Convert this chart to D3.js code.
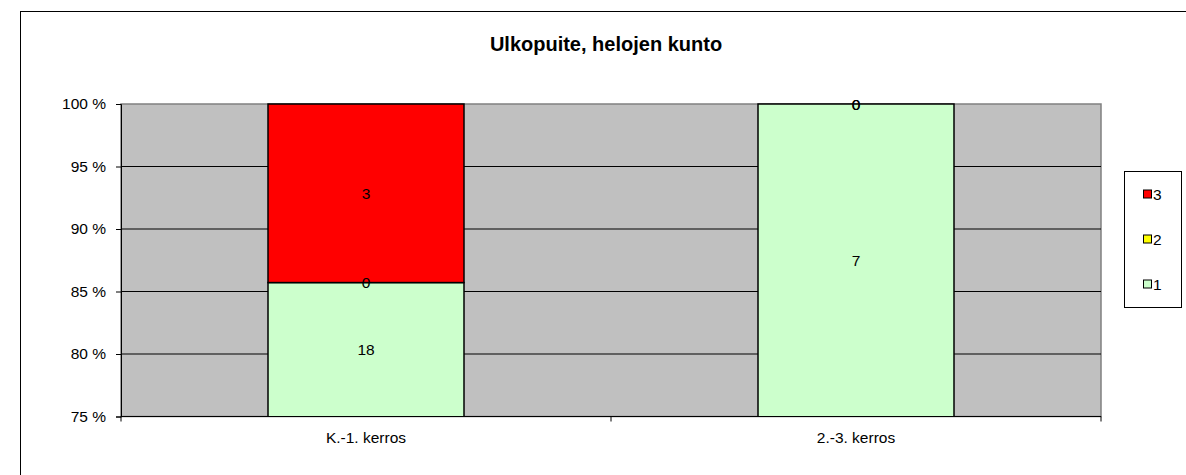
<!DOCTYPE html>
<html><head><meta charset="utf-8">
<script src="https://cdn.jsdelivr.net/npm/d3@7"></script>
<style>body{margin:0;background:#fff}svg{display:block;font-family:"Liberation Sans",Arial,sans-serif}</style>
</head><body>
<svg id="c" width="1186" height="475"></svg>
<script>
const categories = ["K.-1. kerros", "2.-3. kerros"];
const seriesNames = ["1", "2", "3"];
const seriesColors = ["#ccffcc", "#ffff00", "#ff0000"];
const values1 = [18, 7];
const values2 = [0, 0];
const values3 = [3, 0];
const yTicks = [0.75, 0.80, 0.85, 0.90, 0.95, 1.00];
const title = "Ulkopuite, helojen kunto";

const svg = d3.select("#c");
const L = 121, R = 1101, T = 104, B = 416.5;
const yMin = 0.75, yMax = 1.0;
const FS = 15.5;

svg.append("rect").attr("x",20.5).attr("y",11.5).attr("width",1300).attr("height",600)
  .attr("fill","#fff").attr("stroke","#000").attr("stroke-width",1);

svg.append("text").attr("x",606).attr("y",51).attr("text-anchor","middle")
  .attr("font-weight","bold").attr("font-size",20).text(title);

const x = d3.scaleBand().domain(categories).range([L,R]).paddingInner(0.6).paddingOuter(0.3);
const xOuter = d3.scaleBand().domain(categories).range([L,R]);
const y = d3.scaleLinear().domain([yMin,yMax]).range([B,T]);

svg.append("rect").attr("x",L).attr("y",T).attr("width",R-L).attr("height",B-T)
  .attr("fill","#c0c0c0").attr("stroke","#808080").attr("stroke-width",1.5);

// gridlines
svg.append("g").selectAll("line").data(yTicks.slice(1,-1)).join("line")
  .attr("x1",L).attr("x2",R).attr("y1",d=>y(d)).attr("y2",d=>y(d))
  .attr("stroke","#000").attr("stroke-width",1);

const series = [values1, values2, values3];
const stackData = categories.map((c,i)=>{
  const tot = series.reduce((s,v)=>s+v[i],0);
  let acc = 0;
  return series.map((v,k)=>{
    const y0 = acc/tot; acc += v[i]; const y1 = acc/tot;
    return {cat:c, k, v:v[i], y0, y1};
  });
});

svg.append("clipPath").attr("id","clip").append("rect")
  .attr("x",L).attr("y",T-2).attr("width",R-L).attr("height",B-T+2);

const gBars = svg.append("g").attr("clip-path","url(#clip)");
stackData.forEach(segs=>{
  segs.forEach(s=>{
    if (s.v === 0) return;
    const top = y(s.y1), bot = y(Math.max(s.y0,yMin - 0.01));
    gBars.append("rect").attr("x",x(s.cat)).attr("width",x.bandwidth())
      .attr("y",top).attr("height",bot-top)
      .attr("fill",seriesColors[s.k]).attr("stroke","#000").attr("stroke-width",1.5);
  });
});

// axes
const yAxis = d3.axisLeft(y).tickValues(yTicks).tickSize(5).tickPadding(10)
  .tickFormat(d=>Math.round(d*100)+" %");
const gy = svg.append("g").attr("transform",`translate(${L},0)`).call(yAxis);
gy.select(".domain").attr("stroke","#000");
gy.selectAll("line").attr("stroke","#000");
gy.selectAll("text").attr("font-size",FS).attr("fill","#000")
  .attr("font-family","'Liberation Sans',Arial,sans-serif");

svg.append("line").attr("x1",L).attr("x2",R).attr("y1",B).attr("y2",B).attr("stroke","#000");
const xt = [L, ...categories.map(c=>xOuter(c)+xOuter.bandwidth())];
svg.append("g").selectAll("line").data(xt).join("line")
  .attr("x1",d=>d).attr("x2",d=>d).attr("y1",B).attr("y2",B+5).attr("stroke","#000");
svg.append("g").selectAll("text").data(categories).join("text")
  .attr("x",d=>x(d)+x.bandwidth()/2).attr("y",443).attr("text-anchor","middle")
  .attr("font-size",FS).text(d=>d);

// data labels
stackData.forEach(segs=>{
  segs.forEach(s=>{
    const a = y(Math.max(s.y0,yMin)), b = y(Math.max(s.y1,yMin));
    svg.append("text").attr("x",x(s.cat)+x.bandwidth()/2).attr("y",(a+b)/2+5.5)
      .attr("text-anchor","middle").attr("font-size",FS).text(s.v);
  });
});

// legend
svg.append("rect").attr("x",1124.5).attr("y",171.5).attr("width",57).attr("height",136)
  .attr("fill","#fff").attr("stroke","#000");
const leg = [2,1,0];
leg.forEach((k,i)=>{
  const cy = 194 + i*45;
  svg.append("rect").attr("x",1143.5).attr("y",cy-4).attr("width",8).attr("height",8)
    .attr("fill",seriesColors[k]).attr("stroke","#000");
  svg.append("text").attr("x",1153).attr("y",cy+5.5).attr("font-size",FS).text(seriesNames[k]);
});
</script>
</body></html>
